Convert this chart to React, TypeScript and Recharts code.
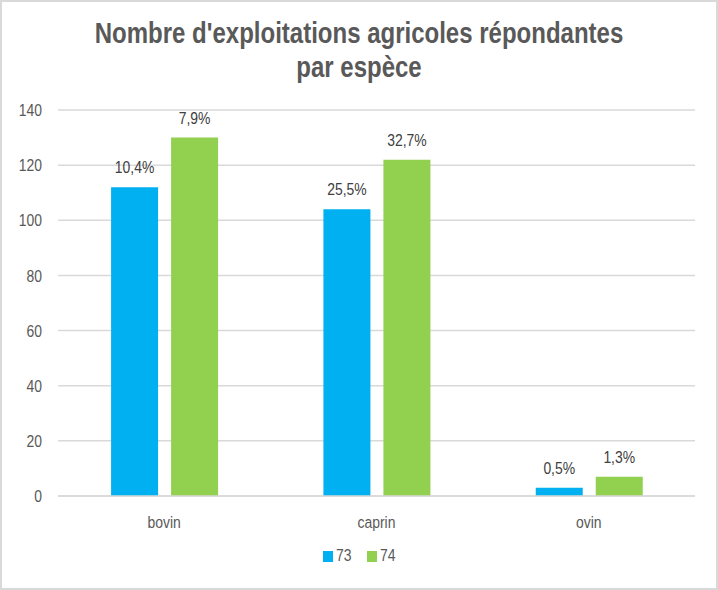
import { Bar, BarChart, CartesianGrid, LabelList, Legend, XAxis, YAxis } from "recharts";

const species = ["bovin", "caprin", "ovin"];
const dept73 = [112, 104, 3];
const dept74 = [130, 122, 7];
const share73 = ["10,4%", "25,5%", "0,5%"];
const share74 = ["7,9%", "32,7%", "1,3%"];
const yTicks = [0, 20, 40, 60, 80, 100, 120, 140];

const data = species.map((name, i) => ({
  name,
  d73: dept73[i],
  d74: dept74[i],
  s73: share73[i],
  s74: share74[i],
}));

const font = "'Liberation Sans', Arial, sans-serif";
const narrow = 0.82;

// narrow text, like Arial Narrow
function NarrowText({ x, y, anchor, dy, fill, size, children }: any) {
  return (
    <text
      transform={`translate(${x},${y}) scale(${narrow},1)`}
      textAnchor={anchor}
      dy={dy}
      fill={fill}
      fontSize={size}
      fontFamily={font}
    >
      {children}
    </text>
  );
}

function YTick({ x, y, payload }: any) {
  return (
    <NarrowText x={x} y={y} anchor="end" dy="0.36em" fill="#595959" size={17}>
      {payload.value}
    </NarrowText>
  );
}

function XTick({ x, y, payload }: any) {
  return (
    <NarrowText x={x} y={y} anchor="middle" dy="0.71em" fill="#595959" size={17}>
      {payload.value}
    </NarrowText>
  );
}

function BarLabel({ x, y, width, value }: any) {
  return (
    <NarrowText x={x + width / 2} y={y - 14} anchor="middle" dy="0" fill="#404040" size={17}>
      {value}
    </NarrowText>
  );
}

function LegendRow({ payload }: any) {
  return (
    <div style={{ display: "flex", justifyContent: "center", alignItems: "center", gap: 15 }}>
      {(payload || []).map((p: any) => (
        <div key={p.value} style={{ display: "flex", alignItems: "center" }}>
          <span style={{ width: 10, height: 11, background: p.color, display: "inline-block", marginRight: 3 }} />
          <span
            style={{
              color: "#595959",
              fontSize: 17,
              fontFamily: font,
              display: "inline-block",
              transform: `scaleX(${narrow})`,
              transformOrigin: "left center",
              width: 16,
              lineHeight: "20px",
            }}
          >
            {p.value}
          </span>
        </div>
      ))}
    </div>
  );
}

export default function App() {
  return (
    <div
      style={{
        position: "absolute",
        left: 0,
        top: 0,
        width: 718,
        height: 590,
        background: "#fff",
        boxSizing: "border-box",
        border: "2px solid #d9d9d9",
        fontFamily: font,
      }}
    >
      <div
        style={{
          position: "absolute",
          top: 14,
          left: 0,
          width: 714,
          textAlign: "center",
          fontSize: 30,
          fontWeight: "bold",
          color: "#595959",
          lineHeight: "34px",
          transform: "scaleX(0.8)",
        }}
      >
        Nombre d'exploitations agricoles répondantes
        <br />
        par espèce
      </div>
      <div style={{ position: "absolute", left: -2, top: -2 }}>
        <BarChart
          width={718}
          height={590}
          data={data}
          margin={{ top: 110, right: 23, left: 0, bottom: 30 }}
          barCategoryGap="25%"
          barGap={13}
        >
          <CartesianGrid vertical={false} stroke="#d9d9d9" strokeWidth={1.5} />
          <XAxis
            dataKey="name"
            axisLine={{ stroke: "#d9d9d9", strokeWidth: 1.5 }}
            tickLine={false}
            tick={<XTick />}
            tickMargin={14}
            height={34}
          />
          <YAxis
            domain={[0, 140]}
            ticks={yTicks}
            axisLine={false}
            tickLine={false}
            tick={<YTick />}
            tickMargin={10}
            width={58}
          />
          <Legend
            verticalAlign="bottom"
            height={30}
            content={<LegendRow />}
            wrapperStyle={{ top: 546, left: 0, width: 718 }}
          />
          <Bar dataKey="d73" name="73" fill="#00b0f0" isAnimationActive={false}>
            <LabelList dataKey="s73" content={<BarLabel />} />
          </Bar>
          <Bar dataKey="d74" name="74" fill="#92d050" isAnimationActive={false}>
            <LabelList dataKey="s74" content={<BarLabel />} />
          </Bar>
        </BarChart>
      </div>
    </div>
  );
}
